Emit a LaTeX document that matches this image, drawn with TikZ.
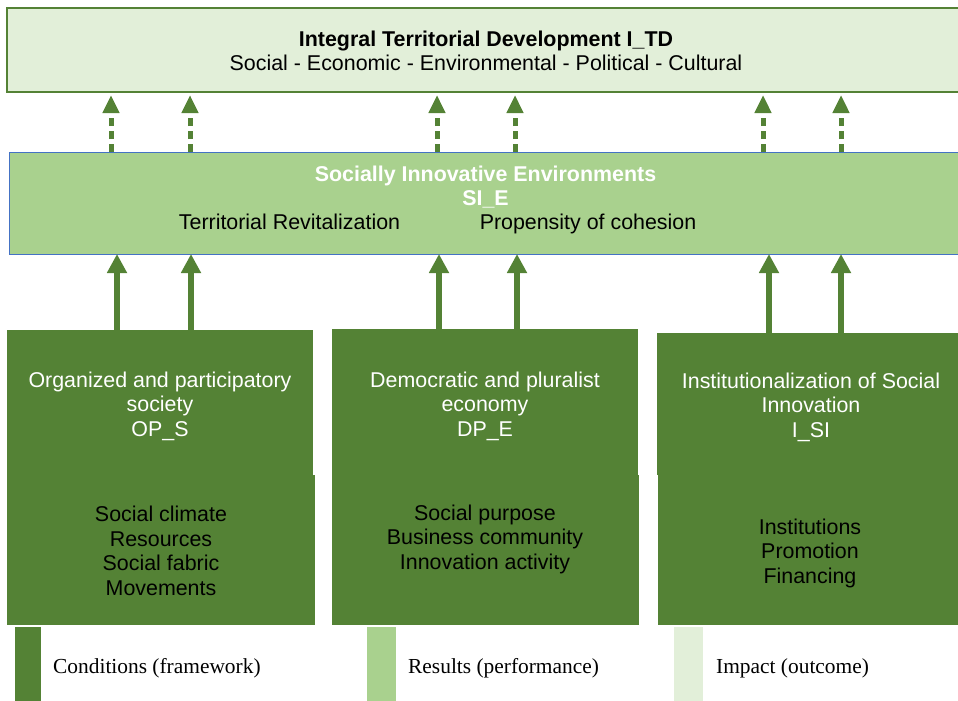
\documentclass[tikz,border=0pt]{standalone}
\usepackage{fontspec}
\setmainfont{Liberation Serif}
\newfontfamily\arialf{Liberation Sans}
\usetikzlibrary{arrows.meta}
\definecolor{dkgreen}{HTML}{548235}
\definecolor{mdgreen}{HTML}{A9D18E}
\definecolor{ltgreen}{HTML}{E2EFD9}
\definecolor{siborder}{HTML}{4472C4}
\begin{document}
\begin{tikzpicture}[x=1pt,y=-1pt,
  panel/.style={rectangle, inner sep=0pt, outer sep=0pt, anchor=north west},
  sans/.style={font={\arialf\fontsize{21.4}{24.5}\selectfont}, align=center, inner sep=0pt},
  wtxt/.style={sans, text=white},
  btxt/.style={sans, text=black},
  legtxt/.style={font={\fontsize{21.4}{24.5}\selectfont}, inner sep=0pt, anchor=base west},
  solidarr/.style={draw=dkgreen, line width=6pt, -{Triangle[length=19pt,width=19pt]}},
  dasharr/.style={draw=dkgreen, line width=5pt, dash pattern=on 8pt off 5pt, shorten >=3pt, -{Triangle[length=18pt,width=16pt]}}
]
\clip (0,0) rectangle (958,701);
% main panels
\node[panel, fill=ltgreen, draw=dkgreen, line width=2pt, minimum width=955pt, minimum height=84pt] (itd) at (7,8) {};
\node[panel, fill=mdgreen, draw=siborder, line width=1pt, minimum width=953pt, minimum height=102pt] (sie) at (9,152) {};
\node[panel, fill=dkgreen, minimum width=306pt, minimum height=145pt] (b1u) at (7,330) {};
\node[panel, fill=dkgreen, minimum width=308pt, minimum height=150pt] (b1l) at (7,475) {};
\node[panel, fill=dkgreen, minimum width=306pt, minimum height=146pt] (b2u) at (332,329) {};
\node[panel, fill=dkgreen, minimum width=307pt, minimum height=150pt] (b2l) at (332,475) {};
\node[panel, fill=dkgreen, minimum width=305pt, minimum height=142pt] (b3u) at (657,333) {};
\node[panel, fill=dkgreen, minimum width=305pt, minimum height=150pt] (b3l) at (658,475) {};
% texts
\node[btxt] (itdt) at (486,50.7) {{\bfseries Integral Territorial Development I\_TD}\\Social - Economic - Environmental - Political - Cultural};
\node[wtxt, font={\arialf\bfseries\fontsize{21.4}{24.5}\selectfont}] (siet) at (485.5,187) {Socially Innovative Environments\\SI\_E};
\node[btxt, anchor=base] (tr) at (289.5,229) {Territorial Revitalization};
\node[btxt, anchor=base] (pc) at (588,229) {Propensity of cohesion};
\node[wtxt] (t1u) at (160,406) {Organized and participatory\\society\\OP\_S};
\node[btxt] (t1l) at (161,551) {Social climate\\Resources\\Social fabric\\Movements};
\node[wtxt] (t2u) at (485,406) {Democratic and pluralist\\economy\\DP\_E};
\node[btxt] (t2l) at (485,539) {Social purpose\\Business community\\Innovation activity};
\node[wtxt] (t3u) at (811,407) {Institutionalization of Social\\Innovation\\I\_SI};
\node[btxt] (t3l) at (810,553) {Institutions\\Promotion\\Financing};
% arrow positions
\coordinate (d1) at (111,0); \coordinate (d2) at (190,0);
\coordinate (d3) at (437,0); \coordinate (d4) at (515,0);
\coordinate (d5) at (763,0); \coordinate (d6) at (841,0);
\coordinate (s1) at (117,0); \coordinate (s2) at (191,0);
\coordinate (s3) at (439,0); \coordinate (s4) at (517,0);
\coordinate (s5) at (769,0); \coordinate (s6) at (841,0);
\foreach \k in {1,2,3,4,5,6} {
  \draw[dasharr] (sie.north -| d\k) -- (itd.south -| d\k);
}
\draw[solidarr] (b1u.north -| s1) -- (sie.south -| s1);
\draw[solidarr] (b1u.north -| s2) -- (sie.south -| s2);
\draw[solidarr] (b2u.north -| s3) -- (sie.south -| s3);
\draw[solidarr] (b2u.north -| s4) -- (sie.south -| s4);
\draw[solidarr] (b3u.north -| s5) -- (sie.south -| s5);
\draw[solidarr] (b3u.north -| s6) -- (sie.south -| s6);
% legend
\node[panel, fill=dkgreen, minimum width=26pt, minimum height=74pt] (lg1) at (15,627) {};
\node[panel, fill=mdgreen, minimum width=29pt, minimum height=74pt] (lg2) at (367,627) {};
\node[panel, fill=ltgreen, minimum width=29pt, minimum height=74pt] (lg3) at (674,627) {};
\node[legtxt] (lt1) at (53,673) {Conditions (framework)};
\node[legtxt] (lt2) at (408,673) {Results (performance)};
\node[legtxt] (lt3) at (716,673) {Impact (outcome)};
\end{tikzpicture}
\end{document}
